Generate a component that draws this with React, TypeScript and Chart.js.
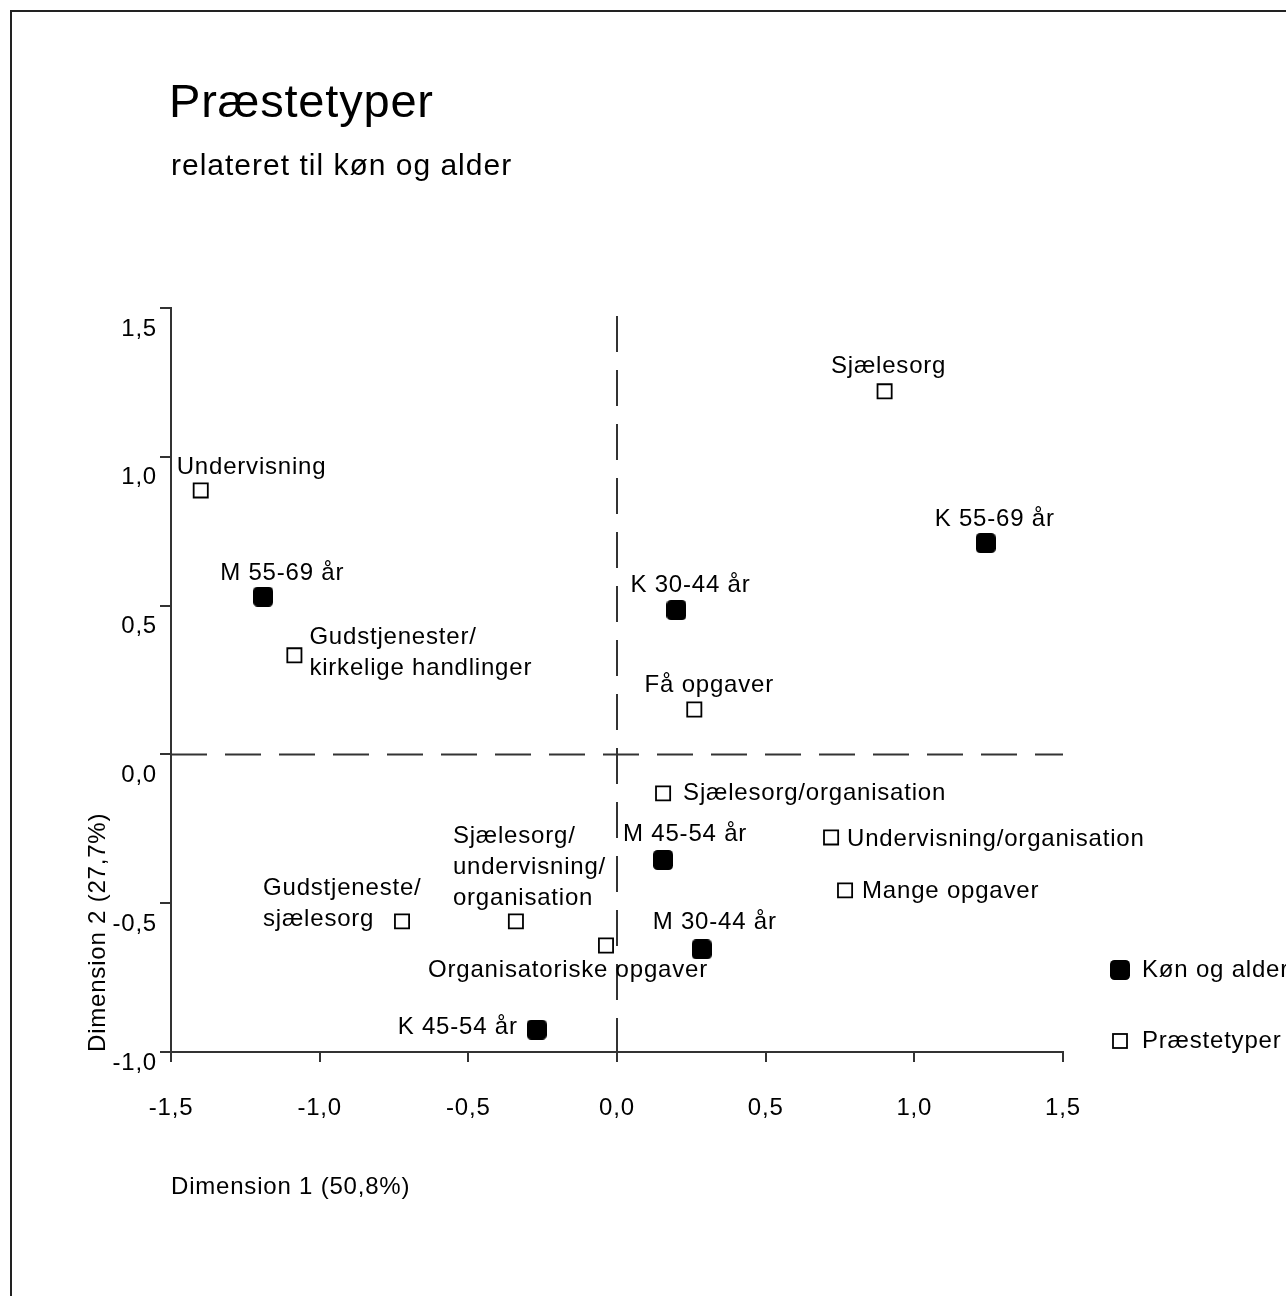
import { useEffect, useRef } from "react";
import { Chart, registerables } from "chart.js";

Chart.register(...registerables);

// ---------- data ----------
const titleText = "Præstetyper";
const subtitleText = "relateret til køn og alder";
const xAxisTitle = "Dimension 1 (50,8%)";
const yAxisTitle = "Dimension 2 (27,7%)";
const seriesNames = ["Køn og alder", "Præstetyper"];

const genderAgeLabels = ["M 55-69 år", "K 30-44 år", "K 55-69 år", "M 45-54 år", "M 30-44 år", "K 45-54 år"];
const genderAgeX = [-1.19, 0.2, 1.24, 0.155, 0.285, -0.27];
const genderAgeY = [0.53, 0.485, 0.71, -0.355, -0.655, -0.925];

const priestTypeLabels = [
  "Sjælesorg",
  "Undervisning",
  "Gudstjenester/\nkirkelige handlinger",
  "Få opgaver",
  "Sjælesorg/organisation",
  "Undervisning/organisation",
  "Mange opgaver",
  "Gudstjeneste/\nsjælesorg",
  "Sjælesorg/\nundervisning/\norganisation",
  "Organisatoriske opgaver",
];
const priestTypeX = [0.9, -1.4, -1.085, 0.26, 0.155, 0.72, 0.767, -0.723, -0.34, -0.037];
const priestTypeY = [1.22, 0.887, 0.333, 0.151, -0.131, -0.279, -0.457, -0.561, -0.561, -0.642];

const xTicksMin = -1.5;
const xTicksMax = 1.5;
const yTicksMin = -1.0;
const yTicksMax = 1.5;
const tickStep = 0.5;

// ---------- label placement (style) ----------
type LabelPos = { dx: number; dy: number; align: CanvasTextAlign };
const genderAgeLabelPos: LabelPos[] = [
  { dx: 19, dy: -23, align: "center" },
  { dx: 14, dy: -25, align: "center" },
  { dx: 9, dy: -24, align: "center" },
  { dx: 22, dy: -26, align: "center" },
  { dx: 13, dy: -27, align: "center" },
  { dx: -19, dy: -2, align: "right" },
];
const priestTypeLabelPos: LabelPos[] = [
  { dx: 4, dy: -25, align: "center" },
  { dx: -24, dy: -23, align: "left" },
  { dx: 15, dy: -18, align: "left" },
  { dx: 15, dy: -24, align: "center" },
  { dx: 20, dy: 0, align: "left" },
  { dx: 16, dy: 2, align: "left" },
  { dx: 17, dy: 1, align: "left" },
  { dx: -139, dy: -33, align: "left" },
  { dx: -63, dy: -85, align: "left" },
  { dx: -38, dy: 25, align: "center" },
];

const FONT = "'Liberation Sans', Arial, Helvetica, sans-serif";
const FS = 24;
const SPACING = "0.8px";
const INK = "#000000";
const LINE = "#333333";
const W = 1286;
const H = 1296;

function makeFilledMarker(): HTMLCanvasElement {
  const c = document.createElement("canvas");
  c.width = 20;
  c.height = 20;
  const g = c.getContext("2d")!;
  g.fillStyle = "#000";
  g.beginPath();
  (g as any).roundRect(0, 0, 20, 20, 4.5);
  g.fill();
  return c;
}

export default function App() {
  const ref = useRef<HTMLCanvasElement | null>(null);

  useEffect(() => {
    if (!ref.current) return;
    const filled = makeFilledMarker();

    const fmt = (v: any) => Number(v).toFixed(1).replace(".", ",").replace("-0,0", "0,0");

    const decor = {
      id: "decor",
      beforeDraw(chart: any) {
        const ctx = chart.ctx as any;
        // wider letter spacing as in the reference (persists for axis text)
        ctx.letterSpacing = SPACING;
        // lift the bottom y tick label off the x axis, as in the reference
        const items = chart.scales.y.getLabelItems(chart.chartArea);
        items.forEach((it: any) => {
          if (it.label === "-1,0" && it.options && it.options.translation) {
            it.options.translation = [it.options.translation[0], it.options.translation[1] - 10];
          }
        });
        ctx.save();
        ctx.strokeStyle = "#222";
        ctx.lineWidth = 2;
        ctx.beginPath();
        ctx.moveTo(11, chart.height);
        ctx.lineTo(11, 11);
        ctx.lineTo(chart.width, 11);
        ctx.stroke();
        ctx.fillStyle = INK;
        ctx.textAlign = "left";
        ctx.textBaseline = "alphabetic";
        ctx.letterSpacing = "0.8px";
        ctx.font = `47px ${FONT}`;
        ctx.fillText(titleText, 169, 117);
        ctx.letterSpacing = "1px";
        ctx.font = `30px ${FONT}`;
        ctx.fillText(subtitleText, 171, 175);
        ctx.restore();
      },
      beforeDatasetsDraw(chart: any) {
        const ctx = chart.ctx as CanvasRenderingContext2D;
        const { chartArea, scales } = chart;
        const x0 = scales.x.getPixelForValue(0);
        const y0 = scales.y.getPixelForValue(0);
        ctx.save();
        ctx.strokeStyle = LINE;
        ctx.lineWidth = 2;
        ctx.setLineDash([36, 18]);
        ctx.beginPath();
        ctx.moveTo(x0, chartArea.top + 8);
        ctx.lineTo(x0, chartArea.bottom);
        ctx.stroke();
        ctx.beginPath();
        ctx.moveTo(chartArea.left, y0);
        ctx.lineTo(chartArea.right, y0);
        ctx.stroke();
        ctx.restore();
      },
      afterDatasetsDraw(chart: any) {
        const ctx = chart.ctx as any;
        ctx.save();
        ctx.letterSpacing = SPACING;
        ctx.fillStyle = INK;
        ctx.font = `${FS}px ${FONT}`;
        ctx.textBaseline = "middle";
        const sets: [string[], LabelPos[]][] = [
          [genderAgeLabels, genderAgeLabelPos],
          [priestTypeLabels, priestTypeLabelPos],
        ];
        sets.forEach(([labels, pos], di) => {
          const meta = chart.getDatasetMeta(di);
          meta.data.forEach((pt: any, i: number) => {
            const p = pos[i];
            ctx.textAlign = p.align;
            labels[i].split("\n").forEach((line, li) => {
              ctx.fillText(line, pt.x + p.dx, pt.y + p.dy + li * 31);
            });
          });
        });
        // legend
        const { chartArea } = chart;
        const lx = chartArea.right + 57;
        const ly1 = chartArea.bottom - 82;
        const ly2 = chartArea.bottom - 11;
        ctx.drawImage(filled, lx - 10, ly1 - 10);
        ctx.fillStyle = "#fff";
        ctx.strokeStyle = "#000";
        ctx.lineWidth = 1.8;
        ctx.fillRect(lx - 7, ly2 - 7, 14, 14);
        ctx.strokeRect(lx - 7, ly2 - 7, 14, 14);
        ctx.fillStyle = INK;
        ctx.textAlign = "left";
        ctx.fillText(seriesNames[0], lx + 22, ly1);
        ctx.fillText(seriesNames[1], lx + 22, ly2);
        ctx.restore();
      },
    };

    const chart = new Chart(ref.current, {
      type: "scatter",
      data: {
        datasets: [
          {
            label: seriesNames[0],
            data: genderAgeX.map((x, i) => ({ x, y: genderAgeY[i] })),
            pointStyle: filled as any,
            pointRadius: 10,
            pointHoverRadius: 10,
            backgroundColor: "#000",
            borderColor: "#000",
          },
          {
            label: seriesNames[1],
            data: priestTypeX.map((x, i) => ({ x, y: priestTypeY[i] })),
            pointStyle: "rect",
            pointRadius: 10,
            pointHoverRadius: 10,
            backgroundColor: "#fff",
            borderColor: "#000",
            borderWidth: 1.8,
          },
        ],
      },
      options: {
        responsive: false,
        animation: false,
        events: [],
        layout: { padding: { left: 0, top: 308, right: W - 1063, bottom: 0 } },
        plugins: {
          legend: { display: false },
          tooltip: { enabled: false },
          title: { display: false },
        },
        scales: {
          x: {
            type: "linear",
            min: xTicksMin,
            max: xTicksMax,
            afterFit: (s: any) => {
              s.height = H - 1052;
            },
            ticks: {
              stepSize: tickStep,
              callback: fmt,
              color: INK,
              font: { family: FONT, size: FS },
              padding: 32,
            },
            grid: {
              display: true,
              drawOnChartArea: false,
              drawTicks: true,
              tickLength: 10,
              tickColor: LINE,
              lineWidth: 2,
            },
            border: { display: true, color: LINE, width: 2 },
            title: {
              display: true,
              text: xAxisTitle,
              align: "start",
              color: INK,
              font: { family: FONT, size: FS },
              padding: { top: 0, bottom: 94 },
            },
          },
          y: {
            type: "linear",
            min: yTicksMin,
            max: yTicksMax,
            afterFit: (s: any) => {
              s.width = 171;
            },
            ticks: {
              stepSize: tickStep,
              callback: fmt,
              color: INK,
              font: { family: FONT, size: FS },
              padding: 3,
              labelOffset: 21,
            },
            grid: {
              display: true,
              drawOnChartArea: false,
              drawTicks: true,
              tickLength: 11,
              tickColor: LINE,
              lineWidth: 2,
            },
            border: { display: true, color: LINE, width: 2 },
            title: {
              display: true,
              text: yAxisTitle,
              align: "start",
              color: INK,
              font: { family: FONT, size: FS },
              padding: { top: 84, bottom: 0 },
            },
          },
        },
      },
      plugins: [decor],
    } as any);

    return () => chart.destroy();
  }, []);

  return (
    <div style={{ position: "absolute", left: 0, top: 0, width: W, height: H, overflow: "hidden", background: "#fff" }}>
      <canvas ref={ref} width={W} height={H} style={{ display: "block", width: W, height: H }} />
    </div>
  );
}
